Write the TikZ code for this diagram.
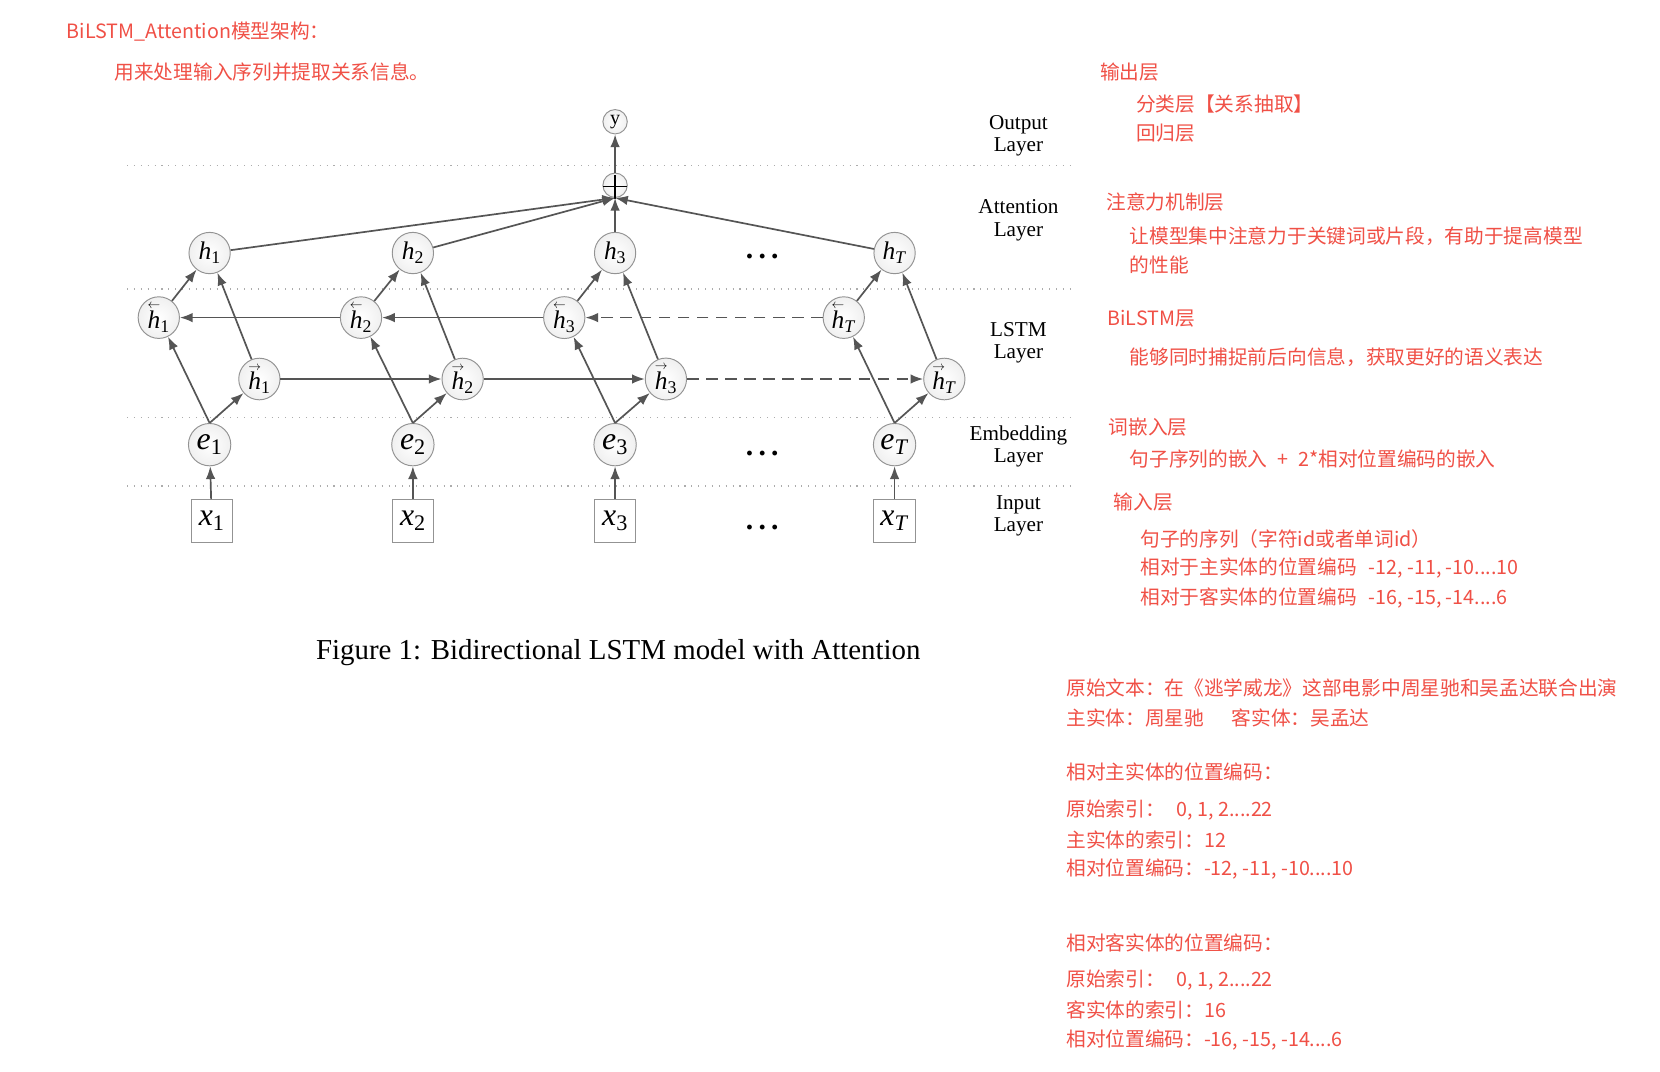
\documentclass[tikz,border=0pt]{standalone}
\usepackage{fontspec}
\setmainfont{Liberation Serif}
\newfontfamily\cjk{Noto Sans CJK SC}
\usetikzlibrary{arrows.meta,shapes.geometric}
\definecolor{notered}{RGB}{240,80,70}
\definecolor{edgegray}{RGB}{85,85,85}
\newcommand\hsub[2]{\textit{#1}\textsubscript{#2}}
\newcommand\bwd[1]{$\stackrel{\scriptscriptstyle\leftarrow}{\textit{h}}$\textsubscript{#1}}
\newcommand\fwd[1]{$\stackrel{\scriptscriptstyle\rightarrow}{\textit{h}}$\textsubscript{#1}}
\begin{document}
\begin{tikzpicture}[x=1pt,y=-1pt,
  cell/.style={ellipse, draw=gray!85, line width=0.9pt, shading=radial, inner color=white, outer color=gray!12,
    minimum width=39pt, minimum height=39pt, inner sep=0pt, font=\fontsize{24}{24}\selectfont},
  embcell/.style={cell, minimum width=40pt, minimum height=40pt, font=\fontsize{30}{30}\selectfont},
  smallcell/.style={circle, draw=gray!85, line width=0.9pt, shading=radial, inner color=white, outer color=gray!12,
    minimum size=23pt, inner sep=0pt, font=\fontsize{19}{19}\selectfont},
  inbox/.style={rectangle, draw=gray!85, line width=0.9pt, fill=white, minimum width=39pt, minimum height=40pt,
    inner sep=0pt, font=\fontsize{30}{30}\selectfont},
  con/.style={draw=edgegray, line width=1.6pt, -{Latex[length=12pt,width=9pt]}},
  dcon/.style={con, dash pattern=on 11pt off 7pt},
  dotline/.style={draw=gray!65, line width=1.1pt, dash pattern=on 1pt off 5.5pt},
  layer/.style={font=\fontsize{20}{21}\selectfont, align=center},
  ellip/.style={font=\fontsize{28}{28}\bfseries\selectfont},
  note/.style={text=notered, anchor=west, inner sep=0pt, font=\cjk\fontsize{18.6}{20}\selectfont},
]
\useasboundingbox (0,0) rectangle (1568,1012);
\fill[white] (0,0) rectangle (1568,1012);

% dotted layer separators
\draw[dotline] (120,156) -- (1017,156);
\draw[dotline] (120,273) -- (1017,273);
\draw[dotline] (120,394) -- (1017,394);
\draw[dotline] (120,459) -- (1017,459);

% output and attention
\node[smallcell] (y) at (581,115) {y};
\node[smallcell] (plus) at (581,175) {};
\draw[black, line width=1.5pt] ([xshift=-11pt,yshift=-1pt]plus.center) -- ([xshift=11pt,yshift=-1pt]plus.center);
\draw[black, line width=1.5pt] ([yshift=-13pt]plus.center) -- ([yshift=10pt]plus.center);

% hidden states
\node[cell] (h1) at (198,239) {\hsub{h}{1}};
\node[cell] (h2) at (390,239) {\hsub{h}{2}};
\node[cell] (h3) at (581,239) {\hsub{h}{3}};
\node[cell] (hT) at (845,239) {\hsub{h}{\textit{T}}};
\node[ellip] (dh) at (720,242) {.\hspace{5pt}.\hspace{5pt}.};

% backward
\node[cell] (b1) at (150,300) {\bwd{1}};
\node[cell] (b2) at (341,300) {\bwd{2}};
\node[cell] (b3) at (533,300) {\bwd{3}};
\node[cell] (bT) at (797,300) {\bwd{\textit{T}}};

% forward
\node[cell] (f1) at (245,358) {\fwd{1}};
\node[cell] (f2) at (437,358) {\fwd{2}};
\node[cell] (f3) at (629,358) {\fwd{3}};
\node[cell] (fT) at (892,358) {\fwd{\textit{T}}};

% embeddings
\node[embcell] (e1) at (198,420) {\hsub{e}{1}};
\node[embcell] (e2) at (390,420) {\hsub{e}{2}};
\node[embcell] (e3) at (581,420) {\hsub{e}{3}};
\node[embcell] (eT) at (845,420) {\hsub{e}{\textit{T}}};
\node[ellip] (de) at (720,428) {.\hspace{5pt}.\hspace{5pt}.};

% inputs
\node[inbox] (x1) at (200,492) {\hsub{x}{1}};
\node[inbox] (x2) at (390,492) {\hsub{x}{2}};
\node[inbox] (x3) at (581,492) {\hsub{x}{3}};
\node[inbox] (xT) at (845,492) {\hsub{x}{\textit{T}}};
\node[ellip] (dx) at (720,498) {.\hspace{5pt}.\hspace{5pt}.};

% connectors
\draw[con] (plus) -- (y);
\foreach \i in {1,2,3,T} {
  \draw[con] (x\i) -- (e\i);
  \draw[con] (e\i.north) -- (f\i);
  \draw[con] (e\i.north) -- (b\i);
  \draw[con] (b\i) -- (h\i);
  \draw[con] (f\i) -- (h\i);
  \draw[con] (h\i) -- (plus.south);
}
\draw[con] (b2) -- (b1);
\draw[con] (b3) -- (b2);
\draw[dcon] (bT) -- (b3);
\draw[con] (f1) -- (f2);
\draw[con] (f2) -- (f3);
\draw[dcon] (f3) -- (fT);

% layer labels
\node[layer] (lo) at (962,128) {Output\\Layer};
\node[layer] (la) at (962,208) {Attention\\Layer};
\node[layer] (ll) at (962,324) {LSTM\\Layer};
\node[layer] (le) at (962,422) {Embedding\\Layer};
\node[layer] (li) at (962,487) {Input\\Layer};

% caption
\node[font=\fontsize{27.3}{27}\selectfont] (cap) at (584,616) {Figure 1: Bidirectional LSTM model with Attention};

% notes
\node[note] (n01) at (63,30) {BiLSTM\_Attention模型架构：};
\node[note] (n02) at (108,68) {用来处理输入序列并提取关系信息。};
\node[note] (n03) at (1039,68) {输出层};
\node[note] (n04) at (1073,98) {分类层【关系抽取】};
\node[note] (n05) at (1073,126) {回归层};
\node[note] (n06) at (1045,191) {注意力机制层};
\node[note] (n07) at (1067,223) {让模型集中注意力于关键词或片段，有助于提高模型};
\node[note] (n08) at (1067,250) {的性能};
\node[note] (n09) at (1046,301) {BiLSTM层};
\node[note] (n10) at (1067,337) {能够同时捕捉前后向信息，获取更好的语义表达};
\node[note] (n11) at (1047,403) {词嵌入层};
\node[note] (n12) at (1067,434) {句子序列的嵌入\hspace{0.5em}+\hspace{0.5em}2*相对位置编码的嵌入};
\node[note] (n13) at (1052,474) {输入层};
\node[note] (n14) at (1077,509) {句子的序列（字符id或者单词id）};
\node[note] (n15) at (1077,537) {相对于主实体的位置编码\hspace{0.6em}-12, -11, -10....10};
\node[note] (n16) at (1077,565) {相对于客实体的位置编码\hspace{0.6em}-16, -15, -14....6};
\node[note] (n17) at (1007,650) {原始文本：在《逃学威龙》这部电影中周星驰和吴孟达联合出演};
\node[note] (n18) at (1007,678) {主实体：周星驰\hspace{1.4em}客实体：吴孟达};
\node[note] (n19) at (1007,729) {相对主实体的位置编码：};
\node[note] (n20) at (1007,765) {原始索引：\hspace{0.6em}0, 1, 2....22};
\node[note] (n21) at (1007,793) {主实体的索引：12};
\node[note] (n22) at (1007,821) {相对位置编码：-12, -11, -10....10};
\node[note] (n23) at (1007,891) {相对客实体的位置编码：};
\node[note] (n24) at (1007,926) {原始索引：\hspace{0.6em}0, 1, 2....22};
\node[note] (n25) at (1007,954) {客实体的索引：16};
\node[note] (n26) at (1007,982) {相对位置编码：-16, -15, -14....6};
\end{tikzpicture}
\end{document}
